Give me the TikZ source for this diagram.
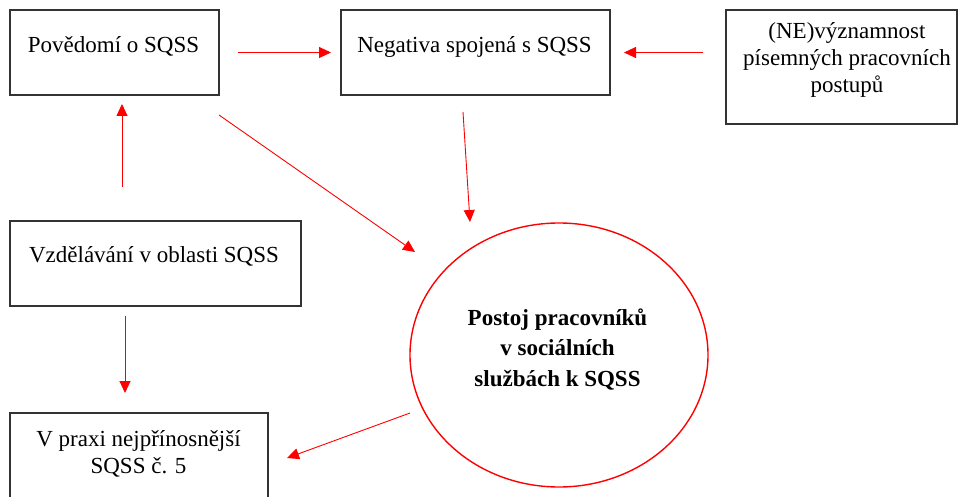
\documentclass[tikz,border=0pt]{standalone}
\usepackage{fontspec}
\setmainfont{Liberation Serif}
\usetikzlibrary{arrows.meta,shapes.geometric}
\begin{document}
\begin{tikzpicture}[x=1pt,y=-1pt,
  boxst/.style={draw=black!80, line width=1.4pt, rectangle, inner sep=0pt, outer sep=0pt},
  txt/.style={inner sep=0pt, outer sep=0pt, align=center, font=\fontsize{23}{27}\selectfont},
  btxt/.style={inner sep=0pt, outer sep=0pt, align=center, font=\fontsize{23}{30.5}\selectfont\bfseries},
  arr/.style={draw=red, line width=0.9pt, -{Triangle[length=12pt,width=11pt]}}]
\path[use as bounding box, clip] (0,0) rectangle (958,497);
\fill[white] (0,0) rectangle (958,497);
% boxes
\node[boxst, minimum width=209pt, minimum height=85pt] (b1) at (114.5,52.5) {};
\node[boxst, minimum width=269pt, minimum height=85pt] (b2) at (475.5,52.5) {};
\node[boxst, minimum width=231pt, minimum height=114pt] (b3) at (841.5,67) {};
\node[boxst, minimum width=291pt, minimum height=85pt] (b4) at (155.5,263.5) {};
\node[boxst, minimum width=258pt, minimum height=107pt] (b5) at (139,466.5) {};
\node[draw=red, line width=1.4pt, ellipse, inner sep=0pt, outer sep=0pt, minimum width=298pt, minimum height=264pt] (ell) at (559,355) {};
% texts
\node[txt, anchor=base] (t1) at (113.5,53) {Povědomí o SQSS};
\node[txt, anchor=base] (t2) at (474.5,53) {Negativa spojená s SQSS};
\node[txt, anchor=base] (t3) at (847,93) {(NE)významnost\\písemných pracovních\\postupů};
\node[txt, anchor=base] (t4) at (154,262) {Vzdělávání v oblasti SQSS};
\node[txt, anchor=base] (t5) at (138.5,473) {V praxi nejpřínosnější\\SQSS č. 5};
\node[btxt, anchor=base] (te) at (557.5,386) {Postoj pracovníků\\v sociálních\\službách k SQSS};
% connectors
\draw[arr, shorten <=19pt, shorten >=10pt] (b1.east) -- (b2.west);
\draw[arr, shorten <=23pt, shorten >=14pt] (b3.west |- b2.east) -- (b2.east);
\draw[arr] ([shift={(0,20)}]b1.south east) -- ([shift={(-144,-103)}]ell.center);
\draw[arr] ([shift={(-12.5,17)}]b2.south) -- ([shift={(-89,-133)}]ell.center);
\draw[arr] ([shift={(-33.5,-34)}]b4.north) -- ([shift={(7.5,9)}]b1.south);
\draw[arr] ([shift={(-30.5,10)}]b4.south) -- ([shift={(-14,-20)}]b5.north);
\draw[arr] ([shift={(-149,58)}]ell.center) -- ([shift={(19,-8.5)}]b5.east);
\end{tikzpicture}
\end{document}
